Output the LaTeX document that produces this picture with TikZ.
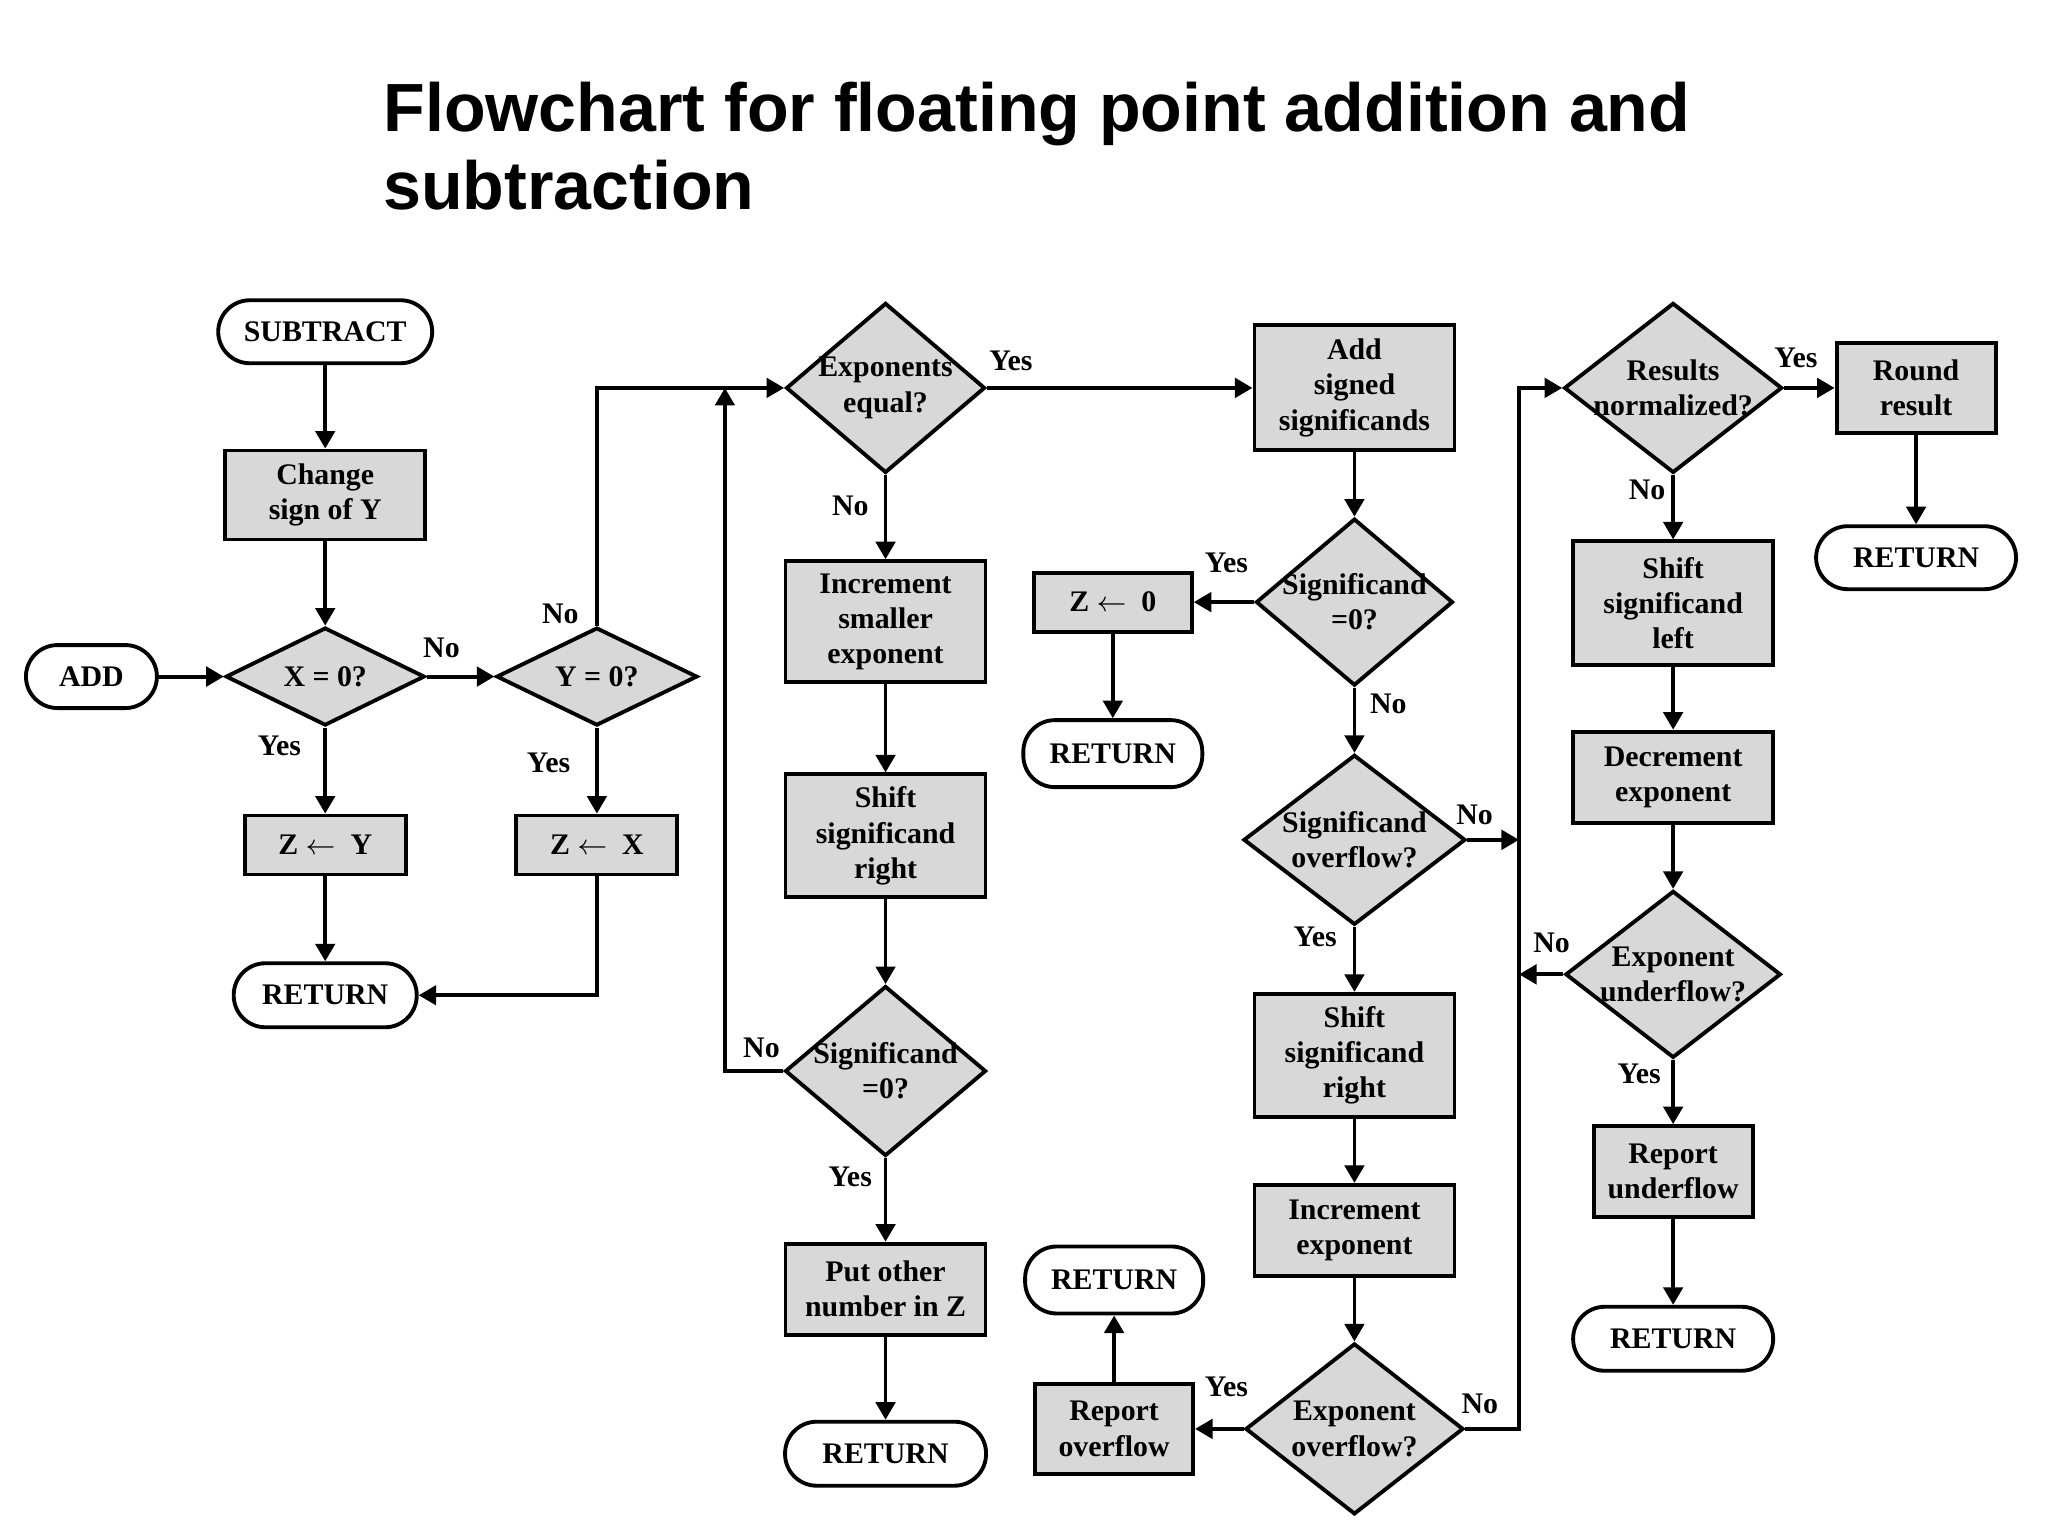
\documentclass[tikz,border=0pt]{standalone}
\usepackage{fontspec}
\setmainfont{Liberation Serif}
\newfontfamily\titlefont{Liberation Sans}
\usepackage{tikz}
\usetikzlibrary{arrows.meta}
\usetikzlibrary{shapes.geometric}
\definecolor{boxgrey}{RGB}{216,216,216}

\begin{document}
\begin{tikzpicture}[x=0.013061cm, y=-0.013061cm, font=\fontsize{8.5}{10}\selectfont\bfseries, box/.style={rectangle, draw, fill=boxgrey, line width=1.1pt, align=center, minimum width=2cm, inner sep=0pt}, term/.style={rectangle, draw, fill=white, line width=1.1pt, rounded corners=9pt, minimum height=0.64cm, inner sep=0pt}, decision/.style={diamond, draw, fill=boxgrey, line width=1.1pt, inner sep=0pt, minimum width=1.99cm, minimum height=1.7cm}, tag/.style={inner sep=0pt}, arrow/.style={line width=1.1pt, -{Triangle[length=5pt, width=5.5pt]}}, line/.style={line width=1.1pt}, every label/.style={align=center, inner sep=0pt}]
\useasboundingbox (0,0) rectangle (1568,1176);
\node (TITLE) [anchor=north west, inner sep=0pt, align=left, font=\titlefont\bfseries\fontsize{19.4}{22.2}\selectfont] at (293,62) {Flowchart for floating point addition and\\subtraction};
% entry and test for zero operands
\node (SUB) [term, minimum width=2.14cm, minimum height=0.63cm] at (249,254) {SUBTRACT};
\node (CHG) [box, minimum height=0.89cm] at (249,379) {Change\\sign of Y};
\node (XZ) [decision, minimum height=0.98cm, label=center:{X = 0?}] at (249,518) {};
\node (ADD) [term, minimum width=1.31cm, minimum height=0.63cm] at (70,518) {ADD};
\node (YZ) [decision, minimum width=2.01cm, minimum height=0.98cm, label=center:{Y = 0?}] at (457,518) {};
\node (ZY) [box, minimum width=1.61cm, minimum height=0.59cm] at (249,647) {Z $\leftarrow$\ \ Y};
\node (ZX) [box, minimum width=1.61cm, minimum height=0.59cm] at (457,647) {Z $\leftarrow$\ \ X};
\node (RETA) [term, minimum width=1.83cm] at (249,762) {RETURN};
% align exponents
\node (EXP) [decision, label=center:{Exponents\\equal?}] at (678,297) {};
\node (INC) [box, minimum height=1.21cm] at (678,476) {Increment\\smaller\\exponent};
\node (SHR) [box, minimum height=1.23cm] at (678,640) {Shift\\significand\\right};
\node (SZA) [decision, minimum width=2.01cm, label=center:{Significand\\=0?}] at (678,820) {};
\node (PUT) [box, minimum height=0.91cm] at (678,987) {Put other\\number in Z};
\node (RETB) [term, minimum width=2.01cm] at (678,1113) {RETURN};
\coordinate (LOOP) at (555,297);
% add significands
\node (ADS) [box, minimum height=1.25cm] at (1037,297) {Add\\signed\\significands};
\node (SZB) [decision, minimum width=1.97cm, minimum height=1.67cm, label=center:{Significand\\=0?}] at (1037,461) {};
\node (ZZ) [box, minimum width=1.58cm, minimum height=0.59cm] at (852,461) {Z $\leftarrow$\ \ 0};
\node (RETC) [term, minimum width=1.79cm, minimum height=0.67cm] at (852,577) {RETURN};
\node (SOV) [decision, minimum width=2.22cm, label=center:{Significand\\overflow?}] at (1037,643) {};
\node (SHRB) [box, minimum height=1.23cm] at (1037,808) {Shift\\significand\\right};
\node (INCE) [box, minimum height=0.91cm] at (1037,942) {Increment\\exponent};
\node (EOV) [decision, minimum width=2.18cm, minimum height=1.71cm, label=center:{Exponent\\overflow?}] at (1037,1094) {};
\node (ROV) [box, minimum width=1.58cm, minimum height=0.90cm] at (853,1094) {Report\\overflow};
\node (RETD) [term, minimum width=1.78cm, minimum height=0.67cm] at (853,980) {RETURN};
\coordinate (BUS) at (1163,297);
% normalize
\node (RN) [decision, minimum width=2.18cm, label=center:{Results\\normalized?}] at (1281,297) {};
\node (RND) [box, minimum width=1.59cm, minimum height=0.90cm] at (1467,297) {Round\\result};
\node (RETE) [term, minimum width=2.0cm, minimum height=0.63cm] at (1467,427) {RETURN};
\node (SHL) [box, minimum height=1.24cm] at (1281,462) {Shift\\significand\\left};
\node (DEC) [box, minimum height=0.91cm] at (1281,595) {Decrement\\exponent};
\node (EUF) [decision, minimum width=2.155cm, minimum height=1.67cm, label=center:{Exponent\\underflow?}] at (1281,746) {};
\node (RUF) [box, minimum width=1.59cm, minimum height=0.91cm] at (1281,897) {Report\\underflow};
\node (RETF) [term, minimum width=2.0cm] at (1281,1025) {RETURN};
% yes / no tags
\node (nXZ) [tag] at (338,496) {No};
\node (nYZ) [tag] at (429,470) {No};
\node (yXZ) [tag] at (214,571) {Yes};
\node (yYZ) [tag] at (420,584) {Yes};
\node (yEXP) [tag] at (774,276) {Yes};
\node (nEXP) [tag] at (651,387) {No};
\node (nSZA) [tag] at (583,802) {No};
\node (ySZA) [tag] at (651,901) {Yes};
\node (ySZB) [tag] at (939,431) {Yes};
\node (nSZB) [tag] at (1063,539) {No};
\node (nSOV) [tag] at (1129,624) {No};
\node (ySOV) [tag] at (1007,717) {Yes};
\node (yEOV) [tag] at (939,1062) {Yes};
\node (nEOV) [tag] at (1133,1075) {No};
\node (yRN) [tag] at (1375,274) {Yes};
\node (nRN) [tag] at (1261,375) {No};
\node (nEUF) [tag] at (1188,722) {No};
\node (yEUF) [tag] at (1255,822) {Yes};
% connectors
\draw [arrow] (SUB.south) -- (CHG.north);
\draw [arrow] (CHG.south) -- (XZ.north);
\draw [arrow] (ADD.east) -- (XZ.west);
\draw [arrow] (XZ.east) -- (YZ.west);
\draw [arrow] (XZ.south) -- (ZY.north);
\draw [arrow] (YZ.south) -- (ZX.north);
\draw [arrow] (ZY.south) -- (RETA.north);
\draw [arrow] (ZX.south) |- (RETA.east);
\draw [arrow] (YZ.north) |- (EXP.west);
\draw [arrow] (EXP.south) -- (INC.north);
\draw [arrow] (INC.south) -- (SHR.north);
\draw [arrow] (SHR.south) -- (SZA.north);
\draw [arrow] (SZA.south) -- (PUT.north);
\draw [arrow] (PUT.south) -- (RETB.north);
\draw [arrow] (SZA.west) -| (LOOP);
\draw [arrow] (EXP.east) -- (ADS.west);
\draw [arrow] (ADS.south) -- (SZB.north);
\draw [arrow] (SZB.west) -- (ZZ.east);
\draw [arrow] (ZZ.south) -- (RETC.north);
\draw [arrow] (SZB.south) -- (SOV.north);
\draw [arrow] (SOV.east) -- (SOV.east -| BUS);
\draw [arrow] (SOV.south) -- (SHRB.north);
\draw [arrow] (SHRB.south) -- (INCE.north);
\draw [arrow] (INCE.south) -- (EOV.north);
\draw [arrow] (EOV.west) -- (ROV.east);
\draw [arrow] (ROV.north) -- (RETD.south);
\draw [arrow] (EOV.east) -| (BUS) -- (RN.west);
\draw [arrow] (RN.east) -- (RND.west);
\draw [arrow] (RND.south) -- (RETE.north);
\draw [arrow] (RN.south) -- (SHL.north);
\draw [arrow] (SHL.south) -- (DEC.north);
\draw [arrow] (DEC.south) -- (EUF.north);
\draw [arrow] (EUF.west) -- (EUF.west -| BUS);
\draw [arrow] (EUF.south) -- (RUF.north);
\draw [arrow] (RUF.south) -- (RETF.north);
\end{tikzpicture}
\end{document}
